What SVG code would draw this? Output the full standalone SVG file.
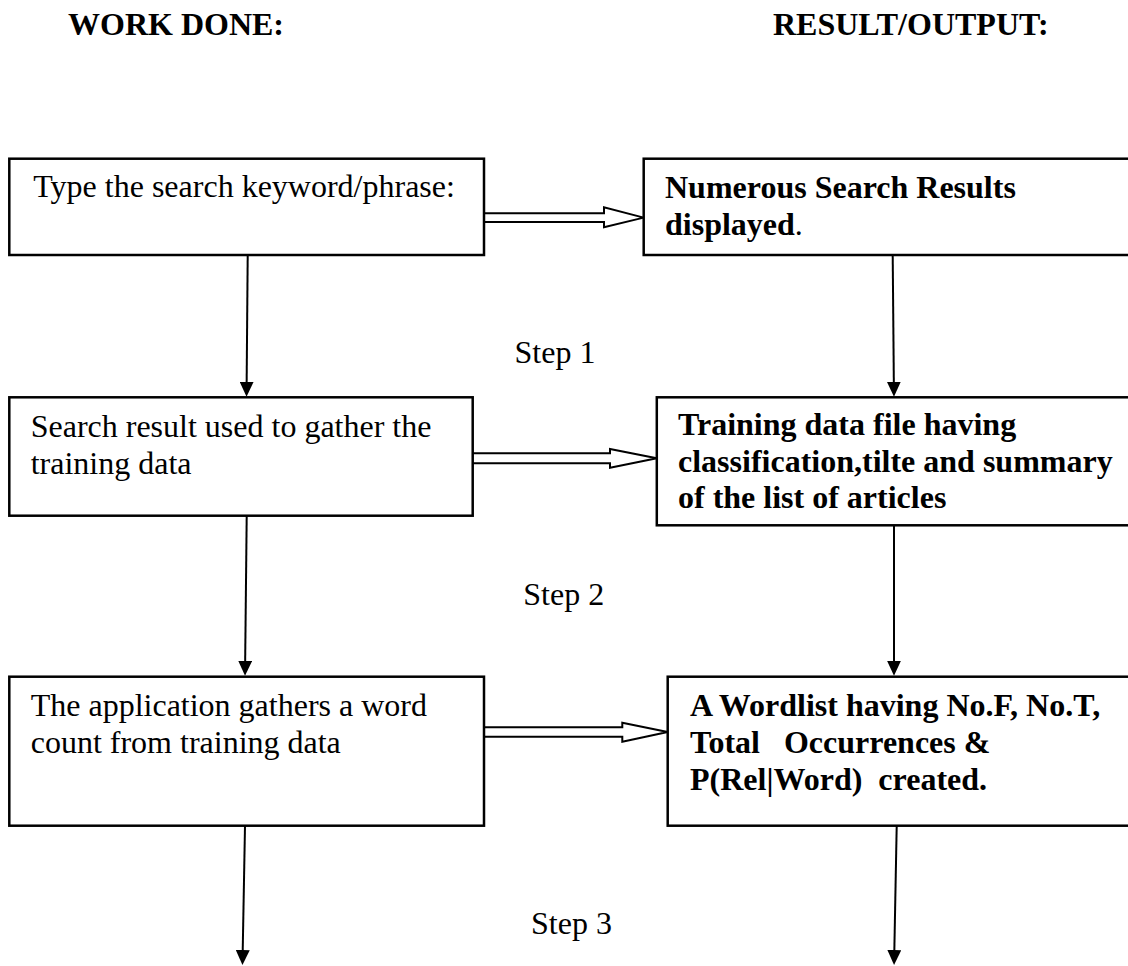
<svg xmlns="http://www.w3.org/2000/svg" width="1128" height="966" viewBox="0 0 1128 966">
<style>
  text { font-family: "Liberation Serif", "Times New Roman", serif; font-size: 32px; fill: #000; white-space: pre; }
  .b { font-weight: bold; }
  .box { fill: #fff; stroke: #000; stroke-width: 2.5; }
  .conn { stroke: #000; stroke-width: 2; fill: none; }
  .dbl { fill: #fff; stroke: #000; stroke-width: 2; stroke-linejoin: miter; }
</style>
<defs>
  <marker id="ah" viewBox="0 0 15 14" refX="7" refY="7" markerWidth="15" markerHeight="14" markerUnits="userSpaceOnUse" orient="auto">
    <path d="M0,0 L15,7 L0,14 z" fill="#000"/>
  </marker>
</defs>
<rect width="1128" height="966" fill="#fff"/>

<g id="headers">
  <text class="b" x="68" y="35">WORK DONE:</text>
  <text class="b" x="773" y="35">RESULT/OUTPUT:</text>
</g>

<g id="steps">
  <text x="514.5" y="363">Step 1</text>
  <text x="523.3" y="605">Step 2</text>
  <text x="531" y="934">Step 3</text>
</g>

<g id="connectors">
  <line class="conn" x1="247.7" y1="255" x2="246.6" y2="388.7" marker-end="url(#ah)"/>
  <line class="conn" x1="892.7" y1="255" x2="893.9" y2="388.7" marker-end="url(#ah)"/>
  <line class="conn" x1="246.7" y1="515.7" x2="245.1" y2="667.7" marker-end="url(#ah)"/>
  <line class="conn" x1="894" y1="525.3" x2="894" y2="667.7" marker-end="url(#ah)"/>
  <line class="conn" x1="245" y1="825.7" x2="242.6" y2="957" marker-end="url(#ah)"/>
  <line class="conn" x1="896.7" y1="825.7" x2="894.2" y2="957" marker-end="url(#ah)"/>
  <path class="dbl" d="M484,213.3 L604,213.3 L604,207.3 L643.7,217.6 L604,227.3 L604,222 L484,222"/>
  <path class="dbl" d="M472.7,453.3 L610,453.3 L610,449 L656.8,458.3 L610,467.8 L610,463.3 L472.7,463.3"/>
  <path class="dbl" d="M484,727.3 L622.3,727.3 L622.3,722.7 L667.7,732 L622.3,741.7 L622.3,736.7 L484,736.7"/>
</g>

<g id="node-type">
  <rect class="box" x="9.3" y="158.7" width="474.7" height="96.3"/>
  <text x="33.3" y="197.3">Type the search keyword/phrase:</text>
</g>

<g id="node-numerous">
  <rect class="box" x="643.7" y="158.7" width="500" height="96.3"/>
  <text class="b" x="665" y="198.3">Numerous Search Results</text>
  <text x="665" y="235"><tspan class="b">displayed</tspan>.</text>
</g>

<g id="node-search">
  <rect class="box" x="9.3" y="397.3" width="463.4" height="118.4"/>
  <text x="30.7" y="437.3">Search result used to gather the</text>
  <text x="30.7" y="474">training data</text>
</g>

<g id="node-training">
  <rect class="box" x="656.8" y="397.3" width="490" height="128"/>
  <text class="b" x="678" y="435">Training data file having</text>
  <text class="b" x="678" y="471.7">classification,tilte and summary</text>
  <text class="b" x="678" y="508.3">of the list of articles</text>
</g>

<g id="node-application">
  <rect class="box" x="9.3" y="676.7" width="474.7" height="149"/>
  <text x="30.7" y="715.7">The application gathers a word</text>
  <text x="30.7" y="753.3">count from training data</text>
</g>

<g id="node-wordlist">
  <rect class="box" x="667.7" y="676.7" width="480" height="149"/>
  <text class="b" x="690" y="715.7">A Wordlist having No.F, No.T,</text>
  <text class="b" x="690" y="752.7">Total   Occurrences &amp;</text>
  <text class="b" x="690" y="790">P(Rel|Word)  created.</text>
</g>
</svg>
